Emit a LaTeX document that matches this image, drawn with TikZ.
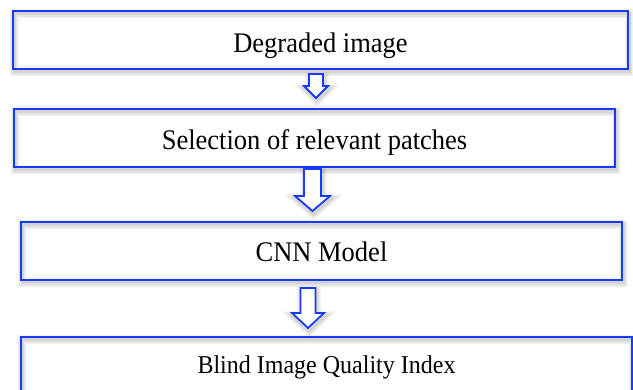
\documentclass[tikz,border=0pt]{standalone}
\usepackage{fontspec}
\setmainfont{Liberation Serif}
\definecolor{bblue}{RGB}{22,58,255}
\newcommand\blockarr[6]{\draw[blockarrow] ({#1-#5},#2) -- ({#1+#5},#2) -- ({#1+#5},#3) -- ({#1+#6},#3) -- (#1,#4) -- ({#1-#6},#3) -- ({#1-#5},#3) -- cycle;}
\tikzset{
  lineshadow/.style={
    preaction={draw=black,draw opacity=0.05,line width=9pt,transform canvas={shift={(1pt,-3pt)}}},
    preaction={draw=black,draw opacity=0.06,line width=6pt,transform canvas={shift={(1pt,-3pt)}}},
    preaction={draw=black,draw opacity=0.07,line width=3pt,transform canvas={shift={(1pt,-3pt)}}}},
  stepbox/.style={rectangle,draw=bblue,line width=2.2pt,minimum height=58pt,inner sep=0pt,
    text depth=0pt,font=\fontsize{26.5}{30}\selectfont,lineshadow},
  blockarrow/.style={draw=bblue,line width=1.8pt,fill=white,line join=miter,lineshadow}
}
\newcommand\tallt[1]{\scalebox{1}[1.07]{#1}}
\begin{document}
\begin{tikzpicture}[x=1pt,y=-1pt]
\useasboundingbox (0,0) rectangle (633,390);
\clip (0,0) rectangle (633,390);
\node[stepbox,minimum width=615pt,text height=25pt] (b1) at (320.5,40) {\tallt{Degraded image}};
\node[stepbox,minimum width=601pt,text height=23pt] (b2) at (314.5,138) {\tallt{Selection of relevant patches}};
\node[stepbox,minimum width=601pt,text height=21pt] (b3) at (321.5,251) {\tallt{CNN Model}};
\node[stepbox,minimum width=611pt,text height=15pt,font=\fontsize{24}{28}\selectfont] (b4) at (326.5,366) {\tallt{Blind Image Quality Index}};
\blockarr{316}{74}{86}{98}{7}{12}
\blockarr{312.5}{169}{196}{211}{8.5}{17.5}
\blockarr{308}{288}{313}{328}{7.5}{16}
\end{tikzpicture}
\end{document}
